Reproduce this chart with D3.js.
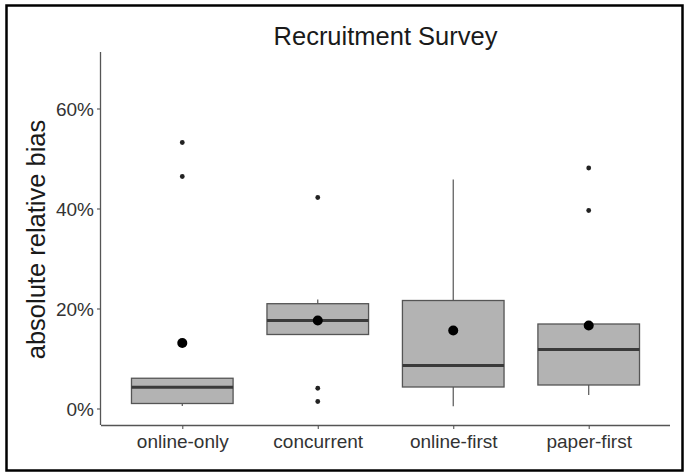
<!DOCTYPE html>
<html>
<head>
<meta charset="utf-8">
<script src="https://cdn.jsdelivr.net/npm/d3@7"></script>
<style>
  html, body { margin: 0; padding: 0; background: #fff; }
  svg { display: block; font-family: "Liberation Sans", Arial, sans-serif; }
</style>
</head>
<body>
<svg id="chart" width="684" height="474"></svg>
<script>
// ---- data (values in %) ----
const categories = ["online-only", "concurrent", "online-first", "paper-first"];
const q1 = [1.0, 14.8, 4.3, 4.7];
const medians = [4.25, 17.6, 8.6, 11.8];
const q3 = [6.05, 20.96, 21.6, 16.9];
const whiskerLow = [0.5, 14.8, 0.45, 2.7];
const whiskerHigh = [6.05, 21.8, 45.8, 16.9];
const means = [13.1, 17.6, 15.6, 16.6];
const outliers = [[53.2, 46.4], [42.2, 4.05, 1.4], [], [48.1, 39.6]];
const yTicks = [0, 20, 40, 60];
const chartTitle = "Recruitment Survey";
const yTitle = "absolute relative bias";

// ---- layout ----
const W = 684, H = 474;
const mLeft = 101, mRight = 670, mTop = 52, mBottom = 425;

const svg = d3.select("#chart");

// outer frame
svg.append("rect")
  .attr("x", 6.5).attr("y", 5.5).attr("width", 676).attr("height", 465)
  .attr("fill", "none").attr("stroke", "#000").attr("stroke-width", 2.5);

const x = d3.scalePoint().domain(categories).range([mLeft, mRight]).padding(0.6);
const y = d3.scaleLinear().domain([-3.3, 71.3]).range([mBottom, mTop]);
const boxW = x.step() * 0.75;

const data = categories.map((c, i) => ({
  c, q1: q1[i], med: medians[i], q3: q3[i],
  lo: whiskerLow[i], hi: whiskerHigh[i], mean: means[i], out: outliers[i]
}));

const g = svg.append("g");

// whiskers
g.selectAll("line.wlo").data(data).join("line")
  .attr("x1", d => x(d.c)).attr("x2", d => x(d.c))
  .attr("y1", d => y(d.q1)).attr("y2", d => y(d.lo))
  .attr("stroke", "#555").attr("stroke-width", 1.2);
g.selectAll("line.whi").data(data).join("line")
  .attr("x1", d => x(d.c)).attr("x2", d => x(d.c))
  .attr("y1", d => y(d.q3)).attr("y2", d => y(d.hi))
  .attr("stroke", "#555").attr("stroke-width", 1.2);

// boxes
g.selectAll("rect.box").data(data).join("rect")
  .attr("x", d => x(d.c) - boxW / 2)
  .attr("y", d => y(d.q3))
  .attr("width", boxW)
  .attr("height", d => y(d.q1) - y(d.q3))
  .attr("fill", "#b3b3b3").attr("stroke", "#555").attr("stroke-width", 1.3);

// medians
g.selectAll("line.med").data(data).join("line")
  .attr("x1", d => x(d.c) - boxW / 2).attr("x2", d => x(d.c) + boxW / 2)
  .attr("y1", d => y(d.med)).attr("y2", d => y(d.med))
  .attr("stroke", "#3a3a3a").attr("stroke-width", 3);

// outliers
data.forEach(d => {
  g.append("g").selectAll("circle").data(d.out).join("circle")
    .attr("cx", x(d.c)).attr("cy", v => y(v))
    .attr("r", 2.4).attr("fill", "#222");
});

// means
g.append("g").selectAll("circle").data(data).join("circle")
  .attr("cx", d => x(d.c)).attr("cy", d => y(d.mean))
  .attr("r", 5).attr("fill", "#000");

// axes
const axisColor = "#555";
const xAxis = svg.append("g").attr("transform", `translate(0,${mBottom})`)
  .call(d3.axisBottom(x).tickSize(4).tickPadding(5).tickSizeOuter(0));
xAxis.select(".domain").attr("d", `M${mLeft},0.5H${mRight}`);

const yAxis = svg.append("g").attr("transform", `translate(${mLeft},0)`)
  .call(d3.axisLeft(y).tickValues(yTicks).tickFormat(d => d + "%").tickSize(4).tickPadding(3).tickSizeOuter(0));
yAxis.select(".domain").attr("d", `M-0.5,${mTop}V${mBottom}`);

[xAxis, yAxis].forEach(a => {
  a.select(".domain").attr("stroke", axisColor).attr("stroke-width", 1.3);
  a.selectAll(".tick line").attr("stroke", axisColor).attr("stroke-width", 1.1);
  a.selectAll(".tick text").attr("fill", "#333").attr("font-size", 19)
    .attr("font-family", "'Liberation Sans', Arial, sans-serif");
});
xAxis.selectAll(".tick text").attr("dy", "0.72em");
yAxis.selectAll(".tick text").attr("dy", "0.36em");

// title
svg.append("text")
  .attr("x", (mLeft + mRight) / 2).attr("y", 45)
  .attr("text-anchor", "middle").attr("font-size", 25.5).attr("fill", "#1a1a1a")
  .text(chartTitle);

// y title
svg.append("text")
  .attr("transform", `translate(45,${(mTop + mBottom) / 2 + 1}) rotate(-90)`)
  .attr("text-anchor", "middle").attr("font-size", 25.5).attr("fill", "#1a1a1a")
  .text(yTitle);
</script>
</body>
</html>
